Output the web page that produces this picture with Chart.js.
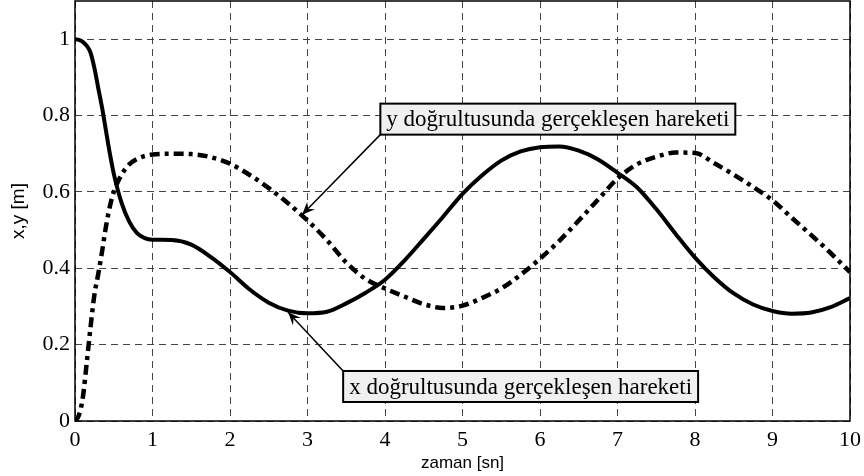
<!DOCTYPE html>
<html>
<head>
<meta charset="utf-8">
<script src="https://cdn.jsdelivr.net/npm/chart.js@4.4.1/dist/chart.umd.min.js"></script>
<style>
  html, body { margin: 0; padding: 0; background: #ffffff; }
  #wrap { width: 864px; height: 476px; }
</style>
</head>
<body>
<div id="wrap"><canvas id="c" width="864" height="476"></canvas></div>
<script>
// Time samples [sn]
const time = [
  0, 0.05, 0.1, 0.15, 0.2, 0.25, 0.3, 0.35, 0.4, 0.45, 0.5, 0.6, 0.7, 0.8, 0.9, 1.0,
  1.25, 1.5, 1.75, 2.0, 2.25, 2.5, 2.75, 3.0, 3.25, 3.5, 3.75, 4.0, 4.25, 4.5, 4.75,
  5.0, 5.25, 5.5, 5.75, 6.0, 6.25, 6.5, 6.75, 7.0, 7.25, 7.5, 7.75, 8.0, 8.25, 8.5,
  8.75, 9.0, 9.25, 9.5, 9.75, 10.0
];

// Motion along x [m]
const xMotion = [
  1.0, 0.998, 0.993, 0.983, 0.965, 0.925, 0.872, 0.82, 0.76, 0.70, 0.648, 0.572, 0.522, 0.492, 0.479, 0.475,
  0.474, 0.462, 0.43, 0.39, 0.345, 0.31, 0.289, 0.282, 0.286, 0.308, 0.336, 0.37, 0.42, 0.477, 0.535,
  0.595, 0.643, 0.682, 0.706, 0.717, 0.719, 0.708, 0.685, 0.65, 0.612, 0.555, 0.49, 0.428, 0.376, 0.334,
  0.305, 0.288, 0.281, 0.284, 0.298, 0.322
];

// Motion along y [m]
const yMotion = [
  0.0, 0.015, 0.06, 0.15, 0.245, 0.33, 0.385, 0.445, 0.51, 0.562, 0.60, 0.645, 0.672, 0.686, 0.694, 0.698,
  0.70, 0.699, 0.691, 0.674, 0.645, 0.61, 0.57, 0.525, 0.474, 0.415, 0.372, 0.347, 0.326, 0.306, 0.296,
  0.302, 0.322, 0.347, 0.383, 0.425, 0.472, 0.525, 0.58, 0.635, 0.672, 0.692, 0.703, 0.702, 0.675, 0.645,
  0.613, 0.578, 0.532, 0.487, 0.44, 0.39
];

const timeTicks = [0, 1, 2, 3, 4, 5, 6, 7, 8, 9, 10];
const valueTicks = [0, 0.2, 0.4, 0.6, 0.8, 1];

const xLabel = 'zaman [sn]';
const yLabel = 'x,y [m]';
const yCallout = 'y doğrultusunda gerçekleşen hareketi';
const xCallout = 'x doğrultusunda gerçekleşen hareketi';

const toPoints = (ts, vs) => ts.map((t, i) => ({ x: t, y: vs[i] }));

// Callout boxes: anchor corner of the box and the arrow tip, both in data units
const callouts = [
  { text: yCallout, corner: { x: 3.94, y: 0.75 }, side: 'bottom', tip: { x: 2.93, y: 0.54 } },
  { text: xCallout, corner: { x: 3.46, y: 0.131 }, side: 'top', tip: { x: 2.75, y: 0.285 } }
];

const SERIF = '"Liberation Serif", "Times New Roman", serif';
const SANS = '"Liberation Sans", Arial, sans-serif';

const framePlugin = {
  id: 'frame',
  beforeDatasetsDraw(chart) {
    const { ctx, chartArea: a } = chart;
    ctx.save();
    ctx.strokeStyle = '#000';
    ctx.lineWidth = 1.5;
    ctx.strokeRect(a.left, a.top, a.right - a.left, a.bottom - a.top);
    ctx.restore();
  }
};

const calloutPlugin = {
  id: 'callouts',
  afterDatasetsDraw(chart) {
    const { ctx, scales } = chart;
    ctx.save();
    ctx.font = '23px ' + SERIF;
    callouts.forEach(c => {
      const cx = scales.x.getPixelForValue(c.corner.x);
      const cy = scales.y.getPixelForValue(c.corner.y);
      const tx = scales.x.getPixelForValue(c.tip.x);
      const ty = scales.y.getPixelForValue(c.tip.y);
      const w = ctx.measureText(c.text).width + 12;
      const h = 31;
      const top = c.side === 'bottom' ? cy - h : cy;

      // arrow shaft
      ctx.strokeStyle = '#000';
      ctx.lineWidth = 1.5;
      ctx.beginPath();
      ctx.moveTo(cx, cy);
      ctx.lineTo(tx, ty);
      ctx.stroke();

      // arrow head
      const ang = Math.atan2(ty - cy, tx - cx);
      const L = 13, W = 5.5, N = 8;
      const bx = tx - L * Math.cos(ang), by = ty - L * Math.sin(ang);
      const nx = tx - N * Math.cos(ang), ny = ty - N * Math.sin(ang);
      const px = -Math.sin(ang), py = Math.cos(ang);
      ctx.fillStyle = '#000';
      ctx.beginPath();
      ctx.moveTo(tx, ty);
      ctx.lineTo(bx + W * px, by + W * py);
      ctx.lineTo(nx, ny);
      ctx.lineTo(bx - W * px, by - W * py);
      ctx.closePath();
      ctx.fill();

      // box
      ctx.fillStyle = '#f0f0f0';
      ctx.fillRect(cx, top, w, h);
      ctx.lineWidth = 2;
      ctx.strokeRect(cx, top, w, h);

      // text
      ctx.fillStyle = '#000';
      ctx.textAlign = 'center';
      ctx.textBaseline = 'middle';
      ctx.fillText(c.text, cx + w / 2, top + h / 2 + 1);
    });
    ctx.restore();
  }
};

const fmt = v => String(Math.round(v * 10) / 10);

new Chart(document.getElementById('c'), {
  type: 'line',
  data: {
    datasets: [
      {
        label: 'x',
        data: toPoints(time, xMotion),
        borderColor: '#000',
        borderWidth: 4,
        pointRadius: 0,
        cubicInterpolationMode: 'monotone',
        fill: false
      },
      {
        label: 'y',
        data: toPoints(time, yMotion),
        borderColor: '#000',
        borderWidth: 4.5,
        borderDash: [10, 5, 4, 5],
        borderCapStyle: 'butt',
        pointRadius: 0,
        cubicInterpolationMode: 'monotone',
        fill: false
      }
    ]
  },
  options: {
    responsive: false,
    animation: false,
    layout: { padding: { left: 0, top: 1, right: 14, bottom: 0 } },
    plugins: { legend: { display: false }, tooltip: { enabled: false } },
    scales: {
      x: {
        type: 'linear',
        min: 0,
        max: 10,
        afterBuildTicks: s => { s.ticks = timeTicks.map(v => ({ value: v })); },
        afterFit: s => { s.height = 55; s.paddingLeft = 0; s.paddingRight = 0; },
        grid: { color: '#444', lineWidth: 1, drawTicks: false },
        border: { display: false, dash: [7, 5] },
        ticks: {
          color: '#000',
          padding: 6,
          maxRotation: 0,
          autoSkip: false,
          font: { family: SERIF, size: 22 },
          callback: v => fmt(v)
        },
        title: {
          display: true,
          text: xLabel,
          color: '#000',
          font: { family: SANS, size: 17 },
          padding: { top: 0, bottom: 2 }
        }
      },
      y: {
        type: 'linear',
        min: 0,
        max: 1.1,
        afterBuildTicks: s => { s.ticks = valueTicks.map(v => ({ value: v })); },
        afterFit: s => { s.width = 75; s.paddingTop = 0; s.paddingBottom = 0; },
        grid: { color: '#444', lineWidth: 1, drawTicks: false },
        border: { display: false, dash: [7, 5] },
        ticks: {
          color: '#000',
          padding: 5,
          autoSkip: false,
          font: { family: SERIF, size: 22 },
          callback: v => fmt(v)
        },
        title: {
          display: true,
          text: yLabel,
          color: '#000',
          font: { family: SANS, size: 19 },
          padding: { top: 7, bottom: 0 }
        }
      }
    }
  },
  plugins: [framePlugin, calloutPlugin]
});
</script>
</body>
</html>
